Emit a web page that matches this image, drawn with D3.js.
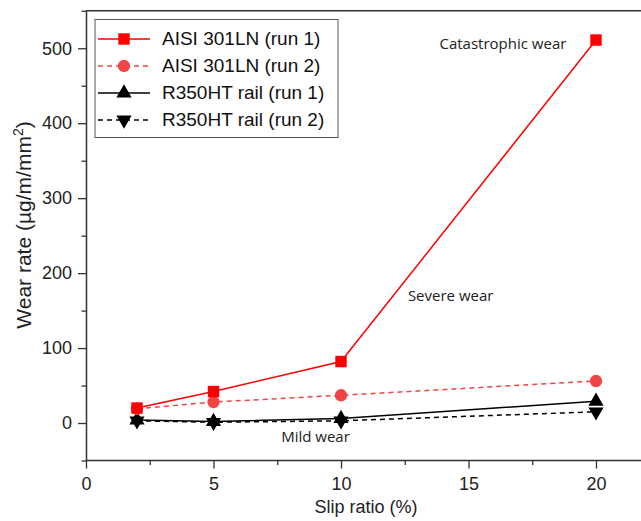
<!DOCTYPE html>
<html><head><meta charset="utf-8">
<script src="https://cdn.jsdelivr.net/npm/d3@7"></script>
<style>body{margin:0;background:#fff;} svg{display:block;}</style>
</head><body>
<script>
const slipRatio = [2, 5, 10, 20];
const aisiRun1 = [20, 42, 82, 511];
const aisiRun2 = [19, 28, 37, 56];
const railRun1 = [4, 2, 6, 29];
const railRun2 = [3, 1, 3, 15];
const seriesNames = ["AISI 301LN (run 1)", "AISI 301LN (run 2)", "R350HT rail (run 1)", "R350HT rail (run 2)"];
const xTicks = [0, 5, 10, 15, 20];
const yTicks = [0, 100, 200, 300, 400, 500];
const annotations = [
  {text: "Catastrophic wear", x: 16.35, y: 504},
  {text: "Severe wear", x: 14.3, y: 168},
  {text: "Mild wear", x: 9.0, y: -20}
];

const W = 641, H = 521;
const svg = d3.select("body").append("svg").attr("width", W).attr("height", H);
const x = d3.scaleLinear().domain([0, 22]).range([86, 647]);
const y = d3.scaleLinear().domain([-50, 550]).range([460.5, 10.8]);
const font = "Arial, 'Liberation Sans', sans-serif";

// frame
svg.append("line").attr("x1", x(0)).attr("x2", W).attr("y1", y(550)).attr("y2", y(550)).attr("stroke", "#333").attr("stroke-width", 1.5);

const xAxis = svg.append("g").attr("transform", `translate(0,${y(-50)})`)
  .call(d3.axisBottom(x).tickValues(xTicks).tickSize(8).tickSizeOuter(0).tickPadding(9));
const xMinor = svg.append("g").attr("transform", `translate(0,${y(-50)})`)
  .call(d3.axisBottom(x).tickValues([2.5, 7.5, 12.5, 17.5]).tickSize(4.5).tickFormat("").tickSizeOuter(0));
const yAxis = svg.append("g").attr("transform", `translate(${x(0)},0)`)
  .call(d3.axisLeft(y).tickValues(yTicks).tickSize(8).tickSizeOuter(0).tickPadding(6));
const yMinor = svg.append("g").attr("transform", `translate(${x(0)},0)`)
  .call(d3.axisLeft(y).tickValues([-50, 50, 150, 250, 350, 450, 550]).tickSize(4.5).tickFormat("").tickSizeOuter(0));
[xAxis, xMinor, yAxis, yMinor].forEach(g => {
  g.select(".domain").attr("stroke", "#333").attr("stroke-width", 1.5);
  g.selectAll(".tick line").attr("stroke", "#333").attr("stroke-width", 1.3);
  g.selectAll("text").attr("font-family", font).attr("font-size", 18).attr("fill", "#222");
});
xAxis.select(".domain").attr("d", `M${x(0)},0H${W}`);
xMinor.select(".domain").remove();
yMinor.select(".domain").remove();

svg.append("text").attr("x", 366).attr("y", 513).attr("text-anchor", "middle")
  .attr("font-family", font).attr("font-size", 18).attr("fill", "#222").text("Slip ratio (%)");
const yt = svg.append("text").attr("transform", "translate(31,225) rotate(-90)").attr("text-anchor", "middle")
  .attr("font-family", font).attr("font-size", 21).attr("fill", "#222");
yt.append("tspan").text("Wear rate (µg/m/mm");
yt.append("tspan").attr("font-size", 14).attr("dy", -8).text("2");
yt.append("tspan").attr("dy", 8).text(")");

const series = [
  {vals: aisiRun1, color: "#ff0000", dash: null, marker: "square"},
  {vals: aisiRun2, color: "#f04545", dash: "5,4", marker: "circle"},
  {vals: railRun1, color: "#000", dash: null, marker: "up"},
  {vals: railRun2, color: "#000", dash: "5,4", marker: "down"}
];
const symbolPath = {
  square: d3.symbol(d3.symbolSquare, 130)(),
  circle: d3.symbol(d3.symbolCircle, 120)(),
  up: d3.symbol(d3.symbolTriangle, 100)(),
  down: d3.symbol(d3.symbolTriangle, 100)()
};
const line = d3.line().x((d, i) => x(slipRatio[i])).y(d => y(d));
const plot = svg.append("g");
series.slice().reverse().forEach(s => {
  plot.append("path").attr("d", line(s.vals)).attr("fill", "none").attr("stroke", s.color)
    .attr("stroke-width", 1.5).attr("stroke-dasharray", s.dash);
});
series.slice().reverse().forEach(s => {
  plot.selectAll(null).data(s.vals).enter().append("path")
    .attr("d", symbolPath[s.marker])
    .attr("transform", (d, i) => `translate(${x(slipRatio[i])},${y(d)})${s.marker === "down" ? " rotate(180)" : ""}`)
    .attr("fill", s.color);
});

annotations.forEach(a => {
  svg.append("text").attr("x", x(a.x)).attr("y", y(a.y)).attr("text-anchor", "middle")
    .attr("dominant-baseline", "middle")
    .attr("font-family", "'Open Sans', Lato, sans-serif").attr("font-size", 15).attr("fill", "#222").text(a.text);
});

// legend
const lg = svg.append("g");
lg.append("rect").attr("x", 95).attr("y", 19.5).attr("width", 243).attr("height", 118)
  .attr("fill", "#fff").attr("stroke", "#555").attr("stroke-width", 1);
series.forEach((s, i) => {
  const cy = 39 + i * 27;
  lg.append("line").attr("x1", 98).attr("x2", 150).attr("y1", cy).attr("y2", cy)
    .attr("stroke", s.color).attr("stroke-width", 1.5).attr("stroke-dasharray", s.dash);
  lg.append("path").attr("d", symbolPath[s.marker])
    .attr("transform", `translate(124,${cy})${s.marker === "down" ? " rotate(180)" : ""}`).attr("fill", s.color);
  lg.append("text").attr("x", 162).attr("y", cy + 1).attr("dominant-baseline", "middle")
    .attr("font-family", font).attr("font-size", 19).attr("fill", "#111").text(seriesNames[i]);
});
</script>
</body></html>
